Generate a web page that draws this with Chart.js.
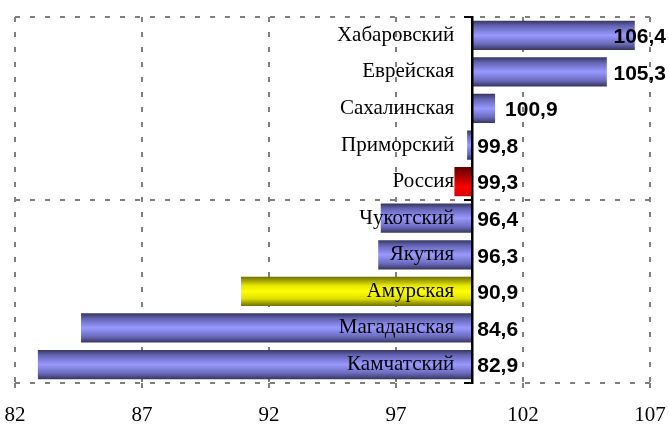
<!DOCTYPE html>
<html>
<head>
<meta charset="utf-8">
<script src="https://cdn.jsdelivr.net/npm/chart.js@4/dist/chart.umd.min.js"></script>
<style>
  html, body { margin: 0; padding: 0; background: #fff; overflow: hidden; }
  #wrap { width: 669px; height: 427px; position: relative; overflow: hidden; }
  #inner { width: 669px; height: 440px; position: absolute; left: 0; top: 0; }
</style>
</head>
<body>
<div id="wrap"><div id="inner"><canvas id="c"></canvas></div></div>
<script>
// ---- data ----
const categories = ['Хабаровский', 'Еврейская', 'Сахалинская', 'Приморский', 'Россия',
                    'Чукотский', 'Якутия', 'Амурская', 'Магаданская', 'Камчатский'];
const values = [106.4, 105.3, 100.9, 99.8, 99.3, 96.4, 96.3, 90.9, 84.6, 82.9];
const valueLabels = ['106,4', '105,3', '100,9', '99,8', '99,3', '96,4', '96,3', '90,9', '84,6', '82,9'];
const baseValue = 100;
const xMin = 82, xMax = 107, xStep = 5;

// ---- styles ----
const highlight = { 'Россия': 'red', 'Амурская': 'yellow' };
const gradStops = {
  blue:   [[0, '#35355f'], [0.18, '#6464b4'], [0.5, '#9999ff'], [0.8, '#6a6abc'], [1, '#36365f']],
  red:    [[0, '#5a0000'], [0.35, '#b00000'], [0.7, '#ff0000'], [1, '#d00000']],
  yellow: [[0, '#6e6e00'], [0.3, '#e6e600'], [0.5, '#ffff00'], [0.75, '#e0e000'], [1, '#6e6e00']]
};
const flatColor = { blue: '#9999ff', red: '#ff0000', yellow: '#ffff00' };
const CAT_PCT = 0.8;

function barFill(ctx) {
  const kind = highlight[categories[ctx.dataIndex]] || 'blue';
  const chart = ctx.chart;
  const ys = chart.scales && chart.scales.y;
  if (!chart.chartArea || !ys) return flatColor[kind];
  const c = ys.getPixelForValue(ctx.dataIndex);
  const h = (ys.bottom - ys.top) / categories.length * CAT_PCT / 2;
  const g = chart.ctx.createLinearGradient(0, c - h, 0, c + h);
  gradStops[kind].forEach(s => g.addColorStop(s[0], s[1]));
  return g;
}

const GRID = '#808080';
const DASH = [5, 10];

const labelPlugin = {
  id: 'labels',
  afterDatasetsDraw(chart) {
    const { ctx } = chart;
    const x = chart.scales.x, y = chart.scales.y;
    const axisX = x.getPixelForValue(baseValue);
    ctx.save();
    ctx.textBaseline = 'middle';
    ctx.fillStyle = '#000';
    ctx.font = '21px "Liberation Serif", "Times New Roman", serif';
    ctx.textAlign = 'right';
    categories.forEach((name, i) => {
      ctx.fillText(name, axisX - 18, y.getPixelForValue(i));
    });
    ctx.font = 'bold 21px "Liberation Sans", Arial, sans-serif';
    ctx.textAlign = 'left';
    values.forEach((v, i) => {
      const txt = valueLabels[i];
      const w = ctx.measureText(txt).width;
      let lx = v > baseValue ? x.getPixelForValue(v) + 10 : axisX + 5;
      lx = Math.min(lx, chart.width - 3 - w);
      ctx.fillText(txt, lx, y.getPixelForValue(i) + 2);
    });
    ctx.restore();
  }
};

new Chart(document.getElementById('c'), {
  type: 'bar',
  data: {
    labels: categories,
    datasets: [{
      data: values,
      base: baseValue,
      backgroundColor: barFill,
      borderWidth: 0,
      categoryPercentage: CAT_PCT,
      barPercentage: 1
    }]
  },
  options: {
    indexAxis: 'y',
    responsive: true,
    maintainAspectRatio: false,
    animation: false,
    events: [],
    layout: { padding: { left: 15, right: 19, top: 17, bottom: 0 } },
    plugins: { legend: { display: false }, tooltip: { enabled: false }, title: { display: false } },
    scales: {
      x: {
        type: 'linear',
        min: xMin, max: xMax,
        afterFit: s => { s.paddingLeft = 0; s.paddingRight = 0; },
        ticks: {
          stepSize: xStep,
          padding: 12,
          color: '#000',
          font: { family: '"Liberation Serif", "Times New Roman", serif', size: 21 }
        },
        grid: {
          color: GRID, lineWidth: 2,
          drawTicks: true, tickLength: 8, tickColor: GRID, tickWidth: 2, tickBorderDash: DASH
        },
        border: { display: false, dash: DASH }
      },
      y: {
        type: 'category',
        position: { x: baseValue },
        offset: true,
        afterFit: s => { s.width = 0; },
        ticks: { display: false },
        grid: {
          offset: true,
          lineWidth: 2,
          color: c => (c.index === undefined || c.index === 0 || c.index === 5) ? GRID : 'rgba(0,0,0,0)',
          drawTicks: true,
          tickLength: 7,
          tickWidth: 2,
          tickColor: c => (c.index === undefined || c.index === 0 || c.index === 5) ? '#000' : 'rgba(0,0,0,0)'
        },
        border: { display: true, color: '#000', width: 2.5, dash: DASH, z: 1 }
      }
    }
  },
  plugins: [labelPlugin]
});
</script>
</body>
</html>
